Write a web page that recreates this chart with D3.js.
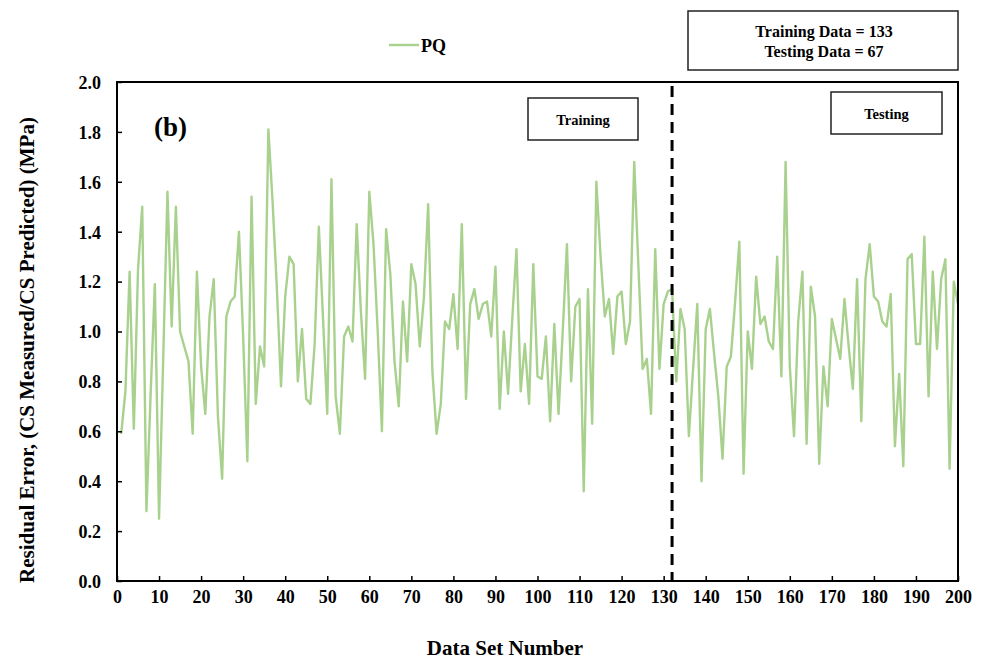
<!DOCTYPE html>
<html><head><meta charset="utf-8">
<script src="https://cdn.jsdelivr.net/npm/d3@7"></script>
<style>body{margin:0;background:#fff}svg{display:block}text{font-family:"Liberation Serif","Times New Roman",serif;font-weight:bold}</style>
</head><body><svg id="c" width="981" height="660"></svg>
<script>
const seriesName = "PQ";
const residuals = [0.59,0.76,1.24,0.61,1.25,1.50,0.28,0.75,1.19,0.25,
0.90,1.56,1.02,1.50,1.00,0.94,0.88,0.59,1.24,0.86,
0.67,1.06,1.21,0.66,0.41,1.06,1.12,1.14,1.40,0.98,
0.48,1.54,0.71,0.94,0.86,1.81,1.52,1.18,0.78,1.14,
1.30,1.27,0.80,1.01,0.73,0.71,0.95,1.42,1.05,0.67,
1.61,0.74,0.59,0.98,1.02,0.96,1.43,1.08,0.81,1.56,
1.35,1.00,0.60,1.41,1.23,0.88,0.70,1.12,0.88,1.27,
1.19,0.94,1.14,1.51,0.84,0.59,0.71,1.04,1.01,1.15,
0.93,1.43,0.73,1.11,1.17,1.05,1.11,1.12,0.98,1.26,
0.69,1.00,0.75,1.05,1.33,0.76,0.95,0.71,1.27,0.82,
0.81,0.98,0.64,1.03,0.67,1.00,1.35,0.80,1.10,1.13,
0.36,1.17,0.63,1.60,1.30,1.06,1.13,0.91,1.14,1.16,
0.95,1.04,1.68,1.26,0.85,0.89,0.67,1.33,0.85,1.11,
1.16,1.17,0.80,1.09,1.01,0.58,0.85,1.11,0.40,1.01,
1.09,0.91,0.74,0.49,0.86,0.90,1.12,1.36,0.43,1.00,
0.85,1.22,1.03,1.06,0.96,0.93,1.30,0.82,1.68,0.86,
0.58,1.04,1.24,0.55,1.18,1.06,0.47,0.86,0.70,1.05,
0.97,0.89,1.13,0.94,0.77,1.21,0.64,1.21,1.35,1.14,
1.12,1.04,1.02,1.15,0.54,0.83,0.46,1.29,1.31,0.95,
0.95,1.38,0.74,1.24,0.93,1.21,1.29,0.45,1.20,1.11];
const dataIndex = residuals.map((_, i) => i + 1);
const xTicks = d3.range(0, 201, 10);
const yTicks = [0,0.2,0.4,0.6,0.8,1.0,1.2,1.4,1.6,1.8,2.0];
const splitAt = 132;
const infoLines = ["Training Data = 133", "Testing Data = 67"];
const regionLabels = ["Training", "Testing"];
const panelLabel = "(b)";
const xTitle = "Data Set Number";
const yTitle = "Residual Error, (CS Measured/CS Predicted) (MPa)";

const svg = d3.select("#c");
const L = 117, R = 958, T = 82, B = 581;
const x = d3.scaleLinear().domain([0, 200]).range([L, R]);
const y = d3.scaleLinear().domain([0, 2]).range([B, T]);

// series line
svg.append("path")
  .datum(residuals)
  .attr("fill", "none").attr("stroke", "#a9d18e").attr("stroke-width", 2.4)
  .attr("stroke-linejoin", "round")
  .attr("d", d3.line().x((d, i) => x(dataIndex[i])).y(d => y(d)));

// dashed split line
svg.append("line").attr("x1", x(splitAt)).attr("x2", x(splitAt)).attr("y1", T + 4).attr("y2", B)
  .attr("stroke", "#000").attr("stroke-width", 3).attr("stroke-dasharray", "11,7");

// axes (ticks point inward)
const gx = svg.append("g").attr("transform", `translate(0,${B})`)
  .call(d3.axisBottom(x).tickValues(xTicks).tickFormat(d3.format("d")).tickSize(-5).tickSizeOuter(0));
const gy = svg.append("g").attr("transform", `translate(${L},0)`)
  .call(d3.axisLeft(y).tickValues(yTicks).tickFormat(d3.format(".1f")).tickSize(-5).tickSizeOuter(0));
[gx, gy].forEach(g => {
  g.select(".domain").remove();
  g.selectAll("line").attr("stroke", "#000").attr("stroke-width", 1.5);
  g.selectAll("text").attr("font-size", 18).attr("fill", "#000")
    .style("font-family", '"Liberation Serif",serif').style("font-weight", "bold");
});
gx.selectAll("text").attr("dy", "0.71em").attr("y", 9);
gy.selectAll("text").attr("x", -16).attr("dy", "0.35em");

// frame
svg.append("rect").attr("x", L).attr("y", T).attr("width", R - L).attr("height", B - T)
  .attr("fill", "none").attr("stroke", "#000").attr("stroke-width", 2);

// titles
svg.append("text").attr("x", 505).attr("y", 655).attr("text-anchor", "middle")
  .attr("font-size", 21).text(xTitle);
svg.append("text").attr("transform", `translate(34,350) rotate(-90)`)
  .attr("text-anchor", "middle").attr("font-size", 21).text(yTitle);

// panel label
svg.append("text").attr("x", 154).attr("y", 136).attr("font-size", 27).text(panelLabel);

// legend
svg.append("line").attr("x1", 389).attr("x2", 419).attr("y1", 45).attr("y2", 45)
  .attr("stroke", "#a9d18e").attr("stroke-width", 2.4);
svg.append("text").attr("x", 421).attr("y", 52).attr("font-size", 18).text(seriesName);

// info box
svg.append("rect").attr("x", 688).attr("y", 11).attr("width", 270).attr("height", 59)
  .attr("fill", "#fff").attr("stroke", "#222").attr("stroke-width", 1.5);
infoLines.forEach((t, i) => svg.append("text").attr("x", 824).attr("y", 37 + i * 20)
  .attr("text-anchor", "middle").attr("font-size", 16).text(t));

// region boxes
const boxes = [{x: 528, y: 98, w: 110, h: 42, ty: 125}, {x: 831, y: 92, w: 111, h: 42, ty: 119}];
regionLabels.forEach((t, i) => {
  const b = boxes[i];
  svg.append("rect").attr("x", b.x).attr("y", b.y).attr("width", b.w).attr("height", b.h)
    .attr("fill", "#fff").attr("stroke", "#222").attr("stroke-width", 1.5);
  svg.append("text").attr("x", b.x + b.w / 2).attr("y", b.ty).attr("text-anchor", "middle")
    .attr("font-size", 14.5).text(t);
});
</script></body></html>
